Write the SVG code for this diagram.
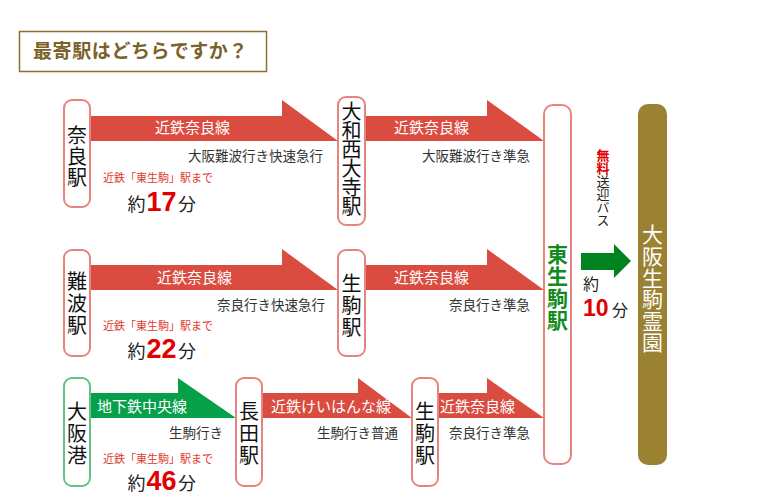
<svg xmlns="http://www.w3.org/2000/svg" width="769" height="498" viewBox="0 0 769 498">
<style>
text{font-family:"Noto Sans CJK JP","Noto Sans",sans-serif;}
.node{fill:#fff;stroke:#e8847f;stroke-width:2;}
.nodeg{fill:#fff;stroke:#67c185;stroke-width:2;}
.red{fill:#db4c40;}
.grn{fill:#07a04a;}
.ln{fill:#fff;font-size:15px;}
.sub{fill:#333;font-size:13.5px;}
.to{fill:#e0392b;font-size:11px;}
.yk{fill:#222;font-size:18px;}
.num{fill:#e00000;font-size:27px;font-weight:bold;font-family:"Liberation Sans",Arial,sans-serif;}
.v{writing-mode:vertical-rl;text-orientation:upright;}
.st{fill:#111;font-size:20px;}
</style>
<rect width="769" height="498" fill="#fff"/>
<g id="title">
<rect x="19.5" y="31.5" width="247" height="40" fill="#fff" stroke="#8a7130" stroke-width="1.5"/>
<text x="33" y="57.5" font-size="19" font-weight="bold" fill="#7b6228" letter-spacing="0.6">最寄駅はどちらですか？</text>
</g>
<g id="connectors">
<polygon class="red" points="91,116 282,116 282,100 338,141 91,141"/>
<polygon class="red" points="366,116 487,116 487,100 544,141 366,141"/>
<polygon class="red" points="91,265 282,265 282,249 338,290 91,290"/>
<polygon class="red" points="366,265 487,265 487,249 544,290 366,290"/>
<polygon class="grn" points="91,393 178,393 178,378 236,418 91,418"/>
<polygon class="red" points="263,393 358,393 358,378 412,418 263,418"/>
<polygon class="red" points="439,393 487,393 487,378 544,418 439,418"/>
<polygon fill="#00841f" points="581,253 614,253 614,244 631,261 614,278 614,270 581,270"/>
<text class="ln" x="155" y="133">近鉄奈良線</text>
<text class="sub" x="323" y="161" text-anchor="end">大阪難波行き快速急行</text>
<text class="ln" x="394" y="133">近鉄奈良線</text>
<text class="sub" x="530" y="161" text-anchor="end">大阪難波行き準急</text>
<text class="ln" x="157" y="283">近鉄奈良線</text>
<text class="sub" x="325" y="310" text-anchor="end">奈良行き快速急行</text>
<text class="ln" x="394" y="283">近鉄奈良線</text>
<text class="sub" x="530" y="310" text-anchor="end">奈良行き準急</text>
<text class="ln" x="97" y="412">地下鉄中央線</text>
<text class="sub" x="223" y="438" text-anchor="end">生駒行き</text>
<text class="ln" x="271" y="412" font-size="14.5">近鉄けいはんな線</text>
<text class="sub" x="398" y="438" text-anchor="end">生駒行き普通</text>
<text class="ln" x="440" y="412">近鉄奈良線</text>
<text class="sub" x="530" y="438" text-anchor="end">奈良行き準急</text>
<text class="v" x="603" y="149" font-size="13"><tspan fill="#e00000" font-weight="bold">無料</tspan><tspan fill="#222">送迎バス</tspan></text>
<text fill="#222" font-size="16"><tspan x="583" y="290">約</tspan><tspan x="583" y="315.5" font-size="23" font-weight="bold" fill="#e00000" font-family="Liberation Sans,Arial,sans-serif">10</tspan><tspan x="612" y="315.5">分</tspan></text>
</g>
<g id="time-nara">
<text class="to" x="103" y="182">近鉄「東生駒」駅まで</text>
<text class="yk" x="127.5" y="211">約</text>
<text class="num" x="146.5" y="211">17</text>
<text class="yk" x="178" y="211">分</text>
</g>
<g id="time-namba">
<text class="to" x="103" y="330">近鉄「東生駒」駅まで</text>
<text class="yk" x="127.5" y="358">約</text>
<text class="num" x="146.5" y="358">22</text>
<text class="yk" x="178" y="358">分</text>
</g>
<g id="time-osakako">
<text class="to" x="103" y="463">近鉄「東生駒」駅まで</text>
<text class="yk" x="127.5" y="490">約</text>
<text class="num" x="146.5" y="490">46</text>
<text class="yk" x="178" y="490">分</text>
</g>
<g id="nara">
<rect class="node" x="64" y="100" width="26" height="107" rx="8"/>
<text class="st v" x="77" y="125" letter-spacing="1">奈良駅</text>
</g>
<g id="yamato-saidaiji">
<rect class="node" x="338" y="97" width="27" height="128" rx="8"/>
<text class="st v" x="351.5" y="101" letter-spacing="-1">大和西大寺駅</text>
</g>
<g id="namba">
<rect class="node" x="64" y="250" width="26" height="106" rx="8"/>
<text class="st v" x="77" y="271" letter-spacing="2">難波駅</text>
</g>
<g id="ikoma-1">
<rect class="node" x="338" y="250" width="27" height="106" rx="8"/>
<text class="st v" x="351.5" y="273" letter-spacing="2">生駒駅</text>
</g>
<g id="osakako">
<rect class="nodeg" x="64" y="378" width="26" height="108" rx="8"/>
<text class="st v" x="77" y="401" letter-spacing="2">大阪港</text>
</g>
<g id="nagata">
<rect class="node" x="236" y="378" width="26" height="108" rx="8"/>
<text class="st v" x="249" y="401" letter-spacing="2">長田駅</text>
</g>
<g id="ikoma-2">
<rect class="node" x="412" y="378" width="26" height="108" rx="8"/>
<text class="st v" x="425" y="401" letter-spacing="2">生駒駅</text>
</g>
<g id="higashi-ikoma">
<rect class="node" x="544" y="105" width="27" height="359" rx="9"/>
<text class="v" x="557.5" y="244" font-size="21" font-weight="bold" fill="#148a1e" letter-spacing="0.7">東生駒駅</text>
</g>
<g id="ikoma-reien">
<rect x="638" y="104" width="29" height="361" rx="10" fill="#9b8233"/>
<text class="v" x="652.5" y="224" font-size="21" fill="#fff" letter-spacing="0.6">大阪生駒霊園</text>
</g>
</svg>
